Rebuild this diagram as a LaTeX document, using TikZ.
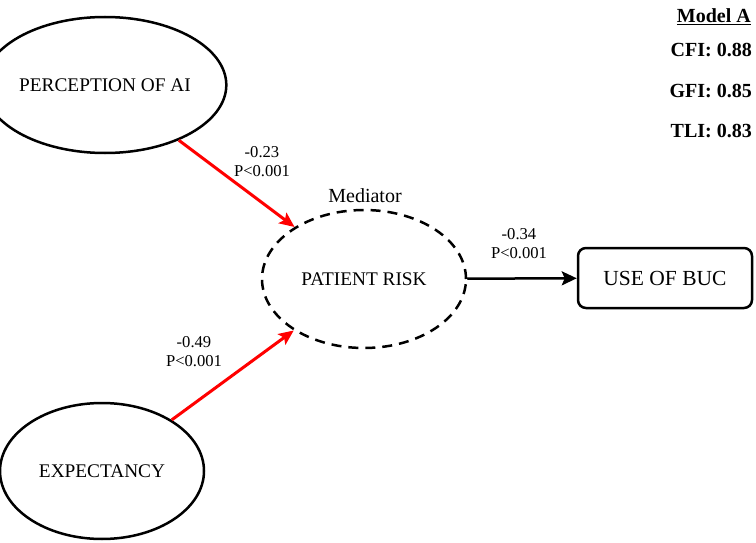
\documentclass[tikz,border=0pt]{standalone}
\usepackage{fontspec}
\setmainfont{Liberation Serif}
\usetikzlibrary{shapes.geometric,arrows.meta}
\begin{document}
\begin{tikzpicture}[x=1pt,y=-1pt,
  latent/.style={ellipse,draw,line width=2.5pt,minimum width=204pt,minimum height=136pt,inner sep=0pt,font=\fontsize{19.3}{22}\selectfont},
  mediator/.style={latent,dash pattern=on 10pt off 7pt,minimum height=138pt},
  observed/.style={draw,rectangle,rounded corners=8pt,line width=2.5pt,minimum width=174pt,minimum height=60pt,inner sep=0pt,font=\fontsize{21.5}{24}\selectfont},
  coef/.style={align=center,inner sep=0pt,font=\fontsize{16.6}{19}\selectfont},
  fit/.style={anchor=base east,inner sep=0pt,font=\bfseries\fontsize{20}{22}\selectfont},
  redpath/.style={draw=red,line width=3pt,-{Stealth[length=15pt,width=13pt,inset=3pt]}},
  blackpath/.style={draw=black,line width=2.5pt,-{Stealth[length=15pt,width=14pt,inset=3pt]}}
]
\useasboundingbox (0,0) rectangle (756,543);

\node[latent] (perc) at (105,85) {PERCEPTION OF AI};
\node[latent] (expc) at (102,471) {EXPECTANCY};
\node[mediator] (risk) at (364,279) {PATIENT RISK};
\node[observed] (buc) at (665,278) {USE OF BUC};

\node[anchor=base,inner sep=0pt,font=\fontsize{20}{22}\selectfont] (medlab) at (365,202) {Mediator};

\draw[redpath] (perc) -- (risk);
\draw[redpath] (expc) -- (risk);
\draw[blackpath] (risk) -- (buc);

\node[coef] (c1) at (262,162) {-0.23\\P<0.001};
\node[coef] (c2) at (194,352) {-0.49\\P<0.001};
\node[coef] (c3) at (519,244) {-0.34\\P<0.001};

\node[fit] (model) at (751,23) {\underline{Model A}};
\node[fit] (cfi) at (752,57) {CFI: 0.88};
\node[fit] (gfi) at (752,98) {GFI: 0.85};
\node[fit] (tli) at (752,138) {TLI: 0.83};
\end{tikzpicture}
\end{document}
